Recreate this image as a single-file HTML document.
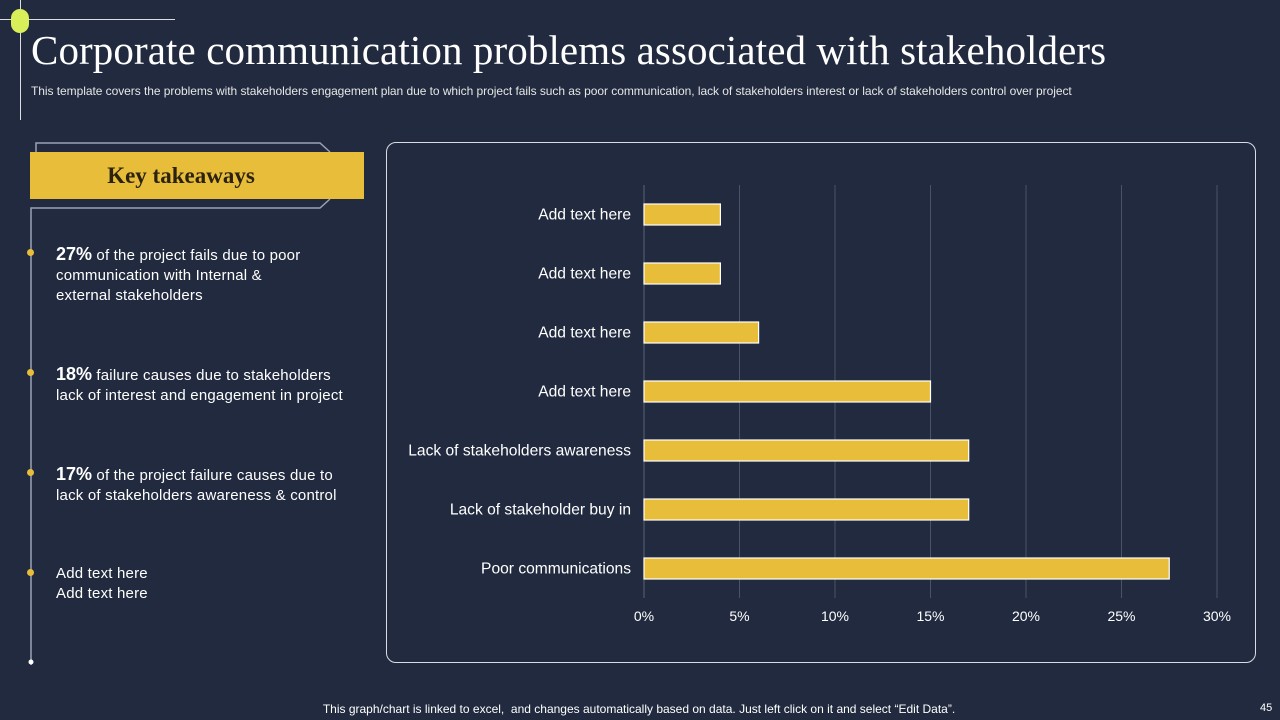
<!DOCTYPE html>
<html><head><meta charset="utf-8"><style>
body{margin:0;width:1280px;height:720px;background:#212a3e;overflow:hidden;position:relative;font-family:"Liberation Sans",sans-serif;color:#fff}
.abs{position:absolute}
.tk{font-size:15px;line-height:20px;color:#fff;letter-spacing:0.2px}
.tk b{font-size:18px;letter-spacing:0}
.dot{position:absolute;left:27px;width:7px;height:7px;border-radius:50%;background:#e8bd3a}
</style></head><body>
<div class="abs" style="left:0;top:19px;width:175px;height:1px;background:#ddd"></div>
<div class="abs" style="left:20px;top:0;width:1px;height:120px;background:#ddd"></div>
<div class="abs" style="left:11px;top:9px;width:18px;height:24px;border-radius:9px;background:#d8ef5a"></div>
<div class="abs" style="left:31px;top:26px;font-family:'Liberation Serif',serif;font-size:41px;color:#fff;white-space:nowrap;letter-spacing:0.1px">Corporate communication problems associated with stakeholders</div>
<div class="abs" style="left:31px;top:84px;font-size:12px;color:#e6e6e6;white-space:nowrap;letter-spacing:-0.05px">This template covers the problems with stakeholders engagement plan due to which project fails such as poor communication, lack of stakeholders interest or lack of stakeholders control over project</div>
<svg class="abs" style="left:0;top:0" width="380" height="720">
<polyline points="36,152 36,143 320,143 330,152" fill="none" stroke="#9aa3b5" stroke-width="1.5"/>
<polyline points="31,665 31,208 320,208 330,199" fill="none" stroke="#9aa3b5" stroke-width="1.5"/>
<circle cx="31" cy="662" r="2.5" fill="#fff"/>
</svg>
<div class="abs" style="left:30px;top:152px;width:334px;height:47px;background:#e8bd3a;color:#2b2310;font-family:'Liberation Serif',serif;font-weight:bold;font-size:23px;line-height:47px;text-align:center;box-sizing:border-box;padding-right:32px">Key takeaways</div>
<div class="dot" style="top:249px"></div>
<div class="abs tk" style="left:56px;top:244px;width:265px"><b>27%</b> of the project fails due to poor communication with Internal &amp; external stakeholders</div>
<div class="dot" style="top:369px"></div>
<div class="abs tk" style="left:56px;top:364px;width:300px"><b>18%</b> failure causes due to stakeholders lack of interest and engagement in project</div>
<div class="dot" style="top:469px"></div>
<div class="abs tk" style="left:56px;top:464px;width:295px"><b>17%</b> of the project failure causes due to lack of stakeholders awareness &amp; control</div>
<div class="dot" style="top:569px"></div>
<div class="abs tk" style="left:56px;top:564px">Add text here<br>Add text here</div>
<div class="abs" style="left:386px;top:142px;width:870px;height:521px;border:1.5px solid #d8dce4;border-radius:10px;box-sizing:border-box"></div>
<svg id="chart" class="abs" style="left:0;top:0" width="1280" height="720"></svg>
<div class="abs" style="left:0;width:1278px;top:702px;text-align:center;font-size:12px;color:#fff">This graph/chart is linked to excel,&nbsp; and changes automatically based on data. Just left click on it and select “Edit Data”.</div>
<div class="abs" style="left:1260px;top:702px;font-size:11px;color:#fff">45</div>
<script>
const categories=["Add text here","Add text here","Add text here","Add text here","Lack of stakeholders awareness","Lack of stakeholder buy in","Poor communications"];
const values=[4,4,6,15,17,17,27.5];
const ticks=[0,5,10,15,20,25,30];
const tickLabels=["0%","5%","10%","15%","20%","25%","30%"];
const svg=document.getElementById('chart');const NS="http://www.w3.org/2000/svg";
const x0=644,x1=1217,y0=185,y1=598;
const xs=v=>x0+(v-ticks[0])/(ticks[ticks.length-1]-ticks[0])*(x1-x0);
const band=(y1-y0)/categories.length;
function mk(t,a){const e=document.createElementNS(NS,t);for(const k in a)e.setAttribute(k,a[k]);svg.appendChild(e);return e;}
ticks.forEach((t,i)=>{
  const g=mk('line',{x1:xs(t),x2:xs(t),y1:y0,y2:y1,stroke:i==0?'#5a6275':'#4a5266','stroke-width':1});
  
  
  const l=mk('text',{x:xs(t),y:621,'text-anchor':'middle','font-size':14,fill:'#fff','font-family':'Liberation Sans, sans-serif'});
  l.textContent=tickLabels[i];
  
  
});
categories.forEach((c,i)=>{
  const cy=y0+band*(i+0.5);
  const r=mk('rect',{x:x0,y:cy-10.5,width:xs(values[i])-x0,height:21,fill:'#e8bd3a',stroke:'#fff','stroke-width':1.2});
  
  
  const l=mk('text',{x:631,y:cy+5,'text-anchor':'end','font-size':15.6,fill:'#fff','font-family':'Liberation Sans, sans-serif'});
  l.textContent=c;
  
  
});
</script>
</body></html>
